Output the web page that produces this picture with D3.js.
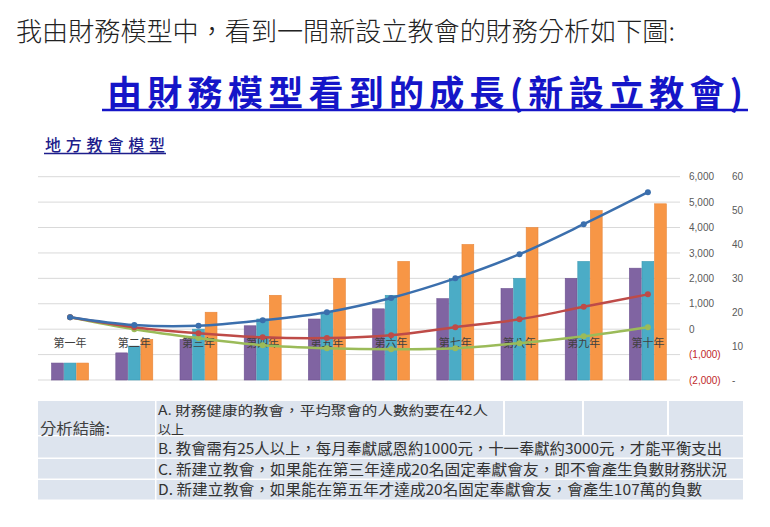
<!DOCTYPE html>
<html><head><meta charset="utf-8">
<script src="https://cdn.jsdelivr.net/npm/d3@7/dist/d3.min.js"></script>
<style>
html,body{margin:0;padding:0;background:#fff;}
svg{display:block;font-family:"Noto Sans CJK TC","Noto Sans",sans-serif;}
</style></head>
<body>
<svg id="c" width="770" height="527"></svg>
<script>
const years = ["第一年","第二年","第三年","第四年","第五年","第六年","第七年","第八年","第九年","第十年"];
const barPurple = [5, 8, 12, 16, 18, 21, 24, 27, 30, 33];
const barTeal   = [5, 10, 15, 18, 20, 25, 30, 30, 35, 35];
const barOrange = [5, 12, 20, 25, 30, 35, 40, 45, 50, 52];
const lineBlue  = [470, 160, 130, 350, 670, 1230, 2000, 2950, 4130, 5390];
const lineRed   = [470, 80, -160, -320, -350, -240, 80, 390, 880, 1370];
const lineGreen = [470, 0, -350, -630, -750, -790, -750, -550, -280, 80];
const leftTicks  = [-2000,-1000,0,1000,2000,3000,4000,5000,6000];
const rightTicks = [0,10,20,30,40,50,60];
const headline = "我由財務模型中，看到一間新設立教會的財務分析如下圖:";
const titleText = "由財務模型看到的成長(新設立教會)";
const subTitle = "地方教會模型";
const tableHead = "分析結論:";
const noteA = ["A. 財務健康的教會，平均聚會的人數約要在42人","以上"];
const notes = [
  "B. 教會需有25人以上，每月奉獻感恩約1000元，十一奉獻約3000元，才能平衡支出",
  "C. 新建立教會，如果能在第三年達成20名固定奉獻會友，即不會產生負數財務狀況",
  "D. 新建立教會，如果能在第五年才達成20名固定奉獻會友，會產生107萬的負數"];

const svg = d3.select("#c");

// headings
svg.append("text").attr("x",16).attr("y",29).attr("dominant-baseline","central")
  .attr("font-size",26).attr("font-weight",300).attr("fill","#222")
  .attr("textLength",659).attr("lengthAdjust","spacingAndGlyphs").text(headline);
svg.append("text").attr("x",107).attr("y",90).attr("dominant-baseline","central")
  .attr("font-size",35).attr("font-weight",700).attr("fill","#1515C8")
  .attr("textLength",636).attr("lengthAdjust","spacing").text(titleText);
svg.append("line").attr("x1",102).attr("x2",748).attr("y1",110).attr("y2",110)
  .attr("stroke","#1515C8").attr("stroke-width",2.5);
svg.append("text").attr("x",45).attr("y",144).attr("dominant-baseline","central")
  .attr("font-size",16).attr("font-weight",500).attr("fill","#1e1e8c")
  .attr("textLength",120).attr("lengthAdjust","spacing").text(subTitle);
svg.append("line").attr("x1",44).attr("x2",166).attr("y1",153.5).attr("y2",153.5)
  .attr("stroke","#1e1e8c").attr("stroke-width",1.3);

// scales
const x0 = d3.scaleBand().domain(years).range([38,680]).paddingInner(0.424).paddingOuter(0.212);
const x1 = d3.scaleBand().domain([0,1,2]).range([0,x0.bandwidth()]).paddingInner(0.06);
const yL = d3.scaleLinear().domain([-2000,6000]).range([380,176.7]);
const yR = d3.scaleLinear().domain([0,60]).range([380,176.7]);

// gridlines
svg.append("g").selectAll("line").data(leftTicks).join("line")
  .attr("x1",38).attr("x2",680).attr("y1",d=>yL(d)).attr("y2",d=>yL(d))
  .attr("stroke","#d9d9d9").attr("stroke-width",1);

// axes (text only)
const axL = d3.axisRight(yL).tickValues(leftTicks).tickSize(0).tickPadding(0)
  .tickFormat(d=> d<0 ? "("+d3.format(",")(-d)+")" : d3.format(",")(d));
const gL = svg.append("g").attr("transform","translate(689,0)").call(axL);
gL.select(".domain").remove();
gL.selectAll("text").attr("font-size",10).attr("font-family","Liberation Sans, Arial, sans-serif")
  .attr("fill",d=> d<0 ? "#c0282a" : "#595959");
const axR = d3.axisRight(yR).tickValues(rightTicks).tickSize(0).tickPadding(0)
  .tickFormat(d=> d===0 ? "-" : d3.format(",")(d));
const gR = svg.append("g").attr("transform","translate(732,0)").call(axR);
gR.select(".domain").remove();
gR.selectAll("text").attr("font-size",10).attr("font-family","Liberation Sans, Arial, sans-serif").attr("fill","#595959");

// bars
const barSeries = [barPurple, barTeal, barOrange];
const barColors = ["#8064a2","#4bacc6","#f79646"];
const barStroke = ["#6c5190","#3f9ab3","#e8863a"];
barSeries.forEach((s,i)=>{
  svg.append("g").selectAll("rect").data(s).join("rect")
    .attr("x",(d,j)=>x0(years[j])+x1(i)).attr("width",x1.bandwidth())
    .attr("y",d=>yR(d)).attr("height",d=>yR(0)-yR(d))
    .attr("fill",barColors[i]).attr("stroke",barStroke[i]).attr("stroke-width",0.6);
});

// category labels
svg.append("g").selectAll("text").data(years).join("text")
  .attr("x",d=>x0(d)+x0.bandwidth()/2).attr("y",342).attr("text-anchor","middle")
  .attr("dominant-baseline","central").attr("font-size",11).attr("fill","#404040").text(d=>d);

// lines
const lineSeries = [lineGreen, lineRed, lineBlue];
const lineColors = ["#9bbb59","#be4b48","#3b6fad"];
const lineGen = d3.line().x((d,j)=>x0(years[j])+x0.bandwidth()/2).y(d=>yL(d)).curve(d3.curveCatmullRom.alpha(0.5));
lineSeries.forEach((s,i)=>{
  svg.append("path").datum(s).attr("d",lineGen).attr("fill","none")
    .attr("stroke",lineColors[i]).attr("stroke-width",2.5).attr("stroke-linecap","round");
  svg.append("g").selectAll("circle").data(s).join("circle")
    .attr("cx",(d,j)=>x0(years[j])+x0.bandwidth()/2).attr("cy",d=>yL(d)).attr("r",3)
    .attr("fill",lineColors[i]);
});

// table
const cellFill = "#dde4ee";
const rows = [[401,435],[436.5,457.5],[459,478.5],[480,499.5]];
const t = svg.append("g");
rows.forEach((r,i)=>{
  t.append("rect").attr("x",38).attr("y",r[0]).attr("width",117).attr("height",r[1]-r[0]).attr("fill",cellFill);
  if(i===0){
    [[156.5,503],[505,582],[584,667],[669,743]].forEach(c=>{
      t.append("rect").attr("x",c[0]).attr("y",r[0]).attr("width",c[1]-c[0]).attr("height",r[1]-r[0]).attr("fill",cellFill);
    });
  } else {
    t.append("rect").attr("x",156.5).attr("y",r[0]).attr("width",743-156.5).attr("height",r[1]-r[0]).attr("fill",cellFill);
  }
});
t.append("text").attr("x",40).attr("y",427).attr("dominant-baseline","central")
  .attr("font-size",15).attr("fill","#404040").attr("textLength",70).attr("lengthAdjust","spacingAndGlyphs").text(tableHead);
// wrapped cell A as two lines
t.append("text").attr("x",158).attr("y",409).attr("dominant-baseline","central")
  .attr("font-size",13).attr("fill","#333")
  .attr("textLength",330).attr("lengthAdjust","spacingAndGlyphs").text(noteA[0]);
t.append("text").attr("x",158).attr("y",428).attr("dominant-baseline","central")
  .attr("font-size",13).attr("fill","#333")
  .attr("textLength",26).attr("lengthAdjust","spacingAndGlyphs").text(noteA[1]);
const noteY = [447,468,488];
const noteW = [564,569,544];
notes.forEach((n,i)=>{
  t.append("text").attr("x",158).attr("y",noteY[i]).attr("dominant-baseline","central")
    .attr("font-size",15).attr("fill","#333")
    .attr("textLength",noteW[i]).attr("lengthAdjust","spacingAndGlyphs").text(n);
});
</script>
</body></html>
